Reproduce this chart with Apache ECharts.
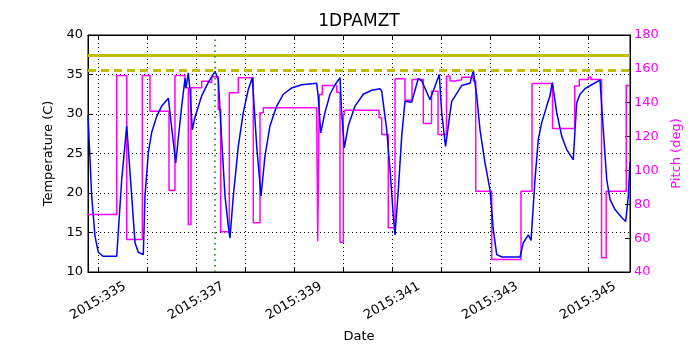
<!DOCTYPE html>
<html lang="en">
<head>
    <meta charset="UTF-8">
    <title>1DPAMZT</title>
    <script src="https://cdn.jsdelivr.net/npm/echarts@6/dist/echarts.min.js"></script>
</head>
<body style="margin:0">
<div id="main" style="width: 700px;height:350px;"></div>
<script type="text/javascript">
    // temperature (day of year 2015, deg C)
    var tempTime = [334.796, 334.871, 334.939, 335.006, 335.102, 335.382, 335.484, 335.586, 335.688, 335.755,
        335.822, 335.924, 335.959, 336.027, 336.096, 336.198, 336.300, 336.435, 336.586, 336.708,
        336.776, 336.796, 336.843, 336.878, 336.924, 336.980, 337.116, 337.251, 337.388, 337.455,
        337.524, 337.592, 337.659, 337.694, 337.761, 337.863, 337.965, 338.067, 338.149, 338.239,
        338.327, 338.408, 338.510, 338.647, 338.782, 338.953, 339.157, 339.463, 339.496, 339.545,
        339.633, 339.735, 339.837, 339.939, 339.973, 340.027, 340.108, 340.245, 340.414, 340.586,
        340.755, 340.790, 340.892, 340.959, 341.027, 341.061, 341.129, 341.198, 341.265, 341.402,
        341.537, 341.606, 341.776, 341.965, 342.014, 342.092, 342.218, 342.422, 342.592, 342.659,
        342.729, 342.796, 342.898, 343.000, 343.067, 343.137, 343.245, 343.612, 343.680, 343.782,
        343.837, 343.918, 343.986, 344.055, 344.157, 344.224, 344.271, 344.361, 344.463, 344.565,
        344.700, 344.735, 344.769, 344.837, 344.939, 345.076, 345.245, 345.312, 345.382, 345.449,
        345.551, 345.688, 345.769, 345.823, 345.857];
    var tempValue = [29.8, 19.6, 14.5, 12.5, 12.0, 12.0, 21.7, 28.5, 19.6, 13.7,
        12.5, 12.2, 19.6, 25.1, 27.7, 29.7, 31.0, 32.0, 23.8, 31.0,
        34.5, 33.3, 35.2, 33.0, 28.0, 29.6, 32.3, 34.0, 35.4, 34.3,
        26.8, 19.6, 15.8, 14.3, 19.6, 25.9, 30.2, 33.1, 34.6, 25.9,
        19.6, 24.7, 28.5, 31.0, 32.5, 33.3, 33.7, 33.9, 32.1, 27.6,
        30.2, 32.5, 33.7, 34.6, 30.2, 25.7, 28.5, 31.0, 32.5, 33.0,
        33.2, 32.9, 28.0, 23.0, 17.1, 14.7, 20.4, 27.2, 31.6, 31.5,
        34.5, 34.2, 31.8, 35.0, 30.2, 25.9, 31.6, 33.6, 33.9, 35.5,
        32.3, 28.0, 23.8, 20.4, 15.4, 12.2, 11.9, 11.9, 13.7, 14.7,
        14.0, 21.7, 26.8, 28.9, 31.0, 32.3, 34.0, 30.2, 27.2, 25.5,
        24.2, 28.0, 31.4, 32.5, 33.2, 33.7, 34.3, 28.0, 21.7, 19.2,
        17.9, 16.9, 16.4, 19.6, 24.0];

    // pitch changes (value holds until next time)
    var pitchTime = [334.796, 335.382, 335.586, 335.904, 336.061, 336.449, 336.571, 336.776, 336.843, 336.898,
        337.116, 337.251, 337.320, 337.455, 337.504, 337.680, 337.863, 338.169, 338.306, 338.373,
        339.463, 339.484, 339.516, 339.578, 339.871, 339.939, 340.006, 340.041, 340.735, 340.790,
        340.924, 341.061, 341.265, 341.408, 341.639, 341.806, 341.939, 342.112, 342.184, 342.286,
        342.422, 342.659, 342.708, 343.035, 343.633, 343.857, 344.276, 344.729, 344.822, 345.006,
        345.061, 345.276, 345.371, 345.780, 345.857];
    var pitchValue = [74.0, 156.1, 59.2, 156.1, 135.0, 88.2, 156.1, 148.8, 68.1, 148.8,
        152.7, 151.8, 155.3, 136.0, 63.8, 145.9, 154.7, 69.1, 134.0, 137.0,
        132.0, 58.2, 144.9, 150.2, 146.2, 57.6, 132.0, 135.6, 131.1, 121.2,
        66.1, 154.1, 141.5, 153.7, 127.7, 146.8, 121.2, 155.7, 152.8, 153.5,
        155.1, 152.8, 87.7, 47.4, 87.7, 151.4, 124.8, 149.8, 153.7, 155.1,
        153.7, 48.4, 87.7, 150.2, 150.2];

    var dayTicks = [335, 336, 337, 338, 339, 340, 341, 342, 343, 344, 345];
    var dayLabels = [335, 337, 339, 341, 343, 345];
    var planningLimit = 37.5;
    var cautionLimit = 35.5;
    var nowDay = 337.39;

    var tempData = [];
    for (var i = 0; i < tempTime.length; i++) {
        tempData.push([tempTime[i], tempValue[i]]);
    }
    var pitchData = [];
    for (var j = 0; j < pitchTime.length; j++) {
        pitchData.push([pitchTime[j], pitchValue[j]]);
    }

    var font = 'DejaVu Sans';
    var myChart = echarts.init(document.getElementById('main'));

    var option = {
        backgroundColor: '#fff',
        animation: false,
        textStyle: {fontFamily: font},
        title: {
            text: '1DPAMZT',
            left: 359,
            top: 13,
            textAlign: 'center',
            padding: 0,
            textStyle: {fontFamily: font, fontSize: 17, fontWeight: 'normal', color: '#000'}
        },
        grid: {left: 88, right: 70, top: 35, bottom: 78, show: true, borderColor: '#000', borderWidth: 1},
        xAxis: [{
            type: 'value',
            min: tempTime[0],
            max: tempTime[tempTime.length - 1],
            name: 'Date',
            nameLocation: 'middle',
            nameGap: 58,
            nameTextStyle: {fontFamily: font, fontSize: 13, color: '#000'},
            axisLine: {lineStyle: {color: '#000'}},
            axisTick: {inside: true, length: 5, customValues: dayTicks, lineStyle: {color: '#000'}},
            axisLabel: {
                customValues: dayLabels,
                rotate: 30,
                align: 'center',
                verticalAlign: 'middle',
                fontFamily: font,
                fontSize: 13,
                color: '#000',
                margin: 29,
                formatter: function (v) { return '2015:' + v; }
            },
            splitLine: {show: true, lineStyle: {color: '#000', type: [1, 3], width: 1}}
        }, {
            type: 'value',
            position: 'top',
            min: tempTime[0],
            max: tempTime[tempTime.length - 1],
            axisLine: {lineStyle: {color: '#000'}},
            axisTick: {inside: true, length: 5, customValues: dayTicks, lineStyle: {color: '#000'}},
            axisLabel: {show: false},
            splitLine: {show: false}
        }],
        yAxis: [{
            type: 'value',
            min: 10,
            max: 40,
            interval: 5,
            name: 'Temperature (C)',
            nameLocation: 'middle',
            nameGap: 27,
            nameTextStyle: {fontFamily: font, fontSize: 13, color: '#000'},
            axisLine: {show: true, lineStyle: {color: '#000'}},
            axisTick: {show: true, inside: true, length: 5, lineStyle: {color: '#000'}},
            axisLabel: {fontFamily: font, fontSize: 13, color: '#000', margin: 5},
            splitLine: {show: true, lineStyle: {color: '#000', type: [1, 3], width: 1}}
        }, {
            type: 'value',
            position: 'right',
            min: 40,
            max: 180,
            interval: 20,
            name: 'Pitch (deg)',
            nameLocation: 'middle',
            nameRotate: 90,
            nameGap: 36,
            nameTextStyle: {fontFamily: font, fontSize: 13, color: '#ff00ff'},
            axisLine: {show: true, lineStyle: {color: '#000'}},
            axisTick: {show: true, inside: true, length: 5, lineStyle: {color: '#000'}},
            axisLabel: {fontFamily: font, fontSize: 13, color: '#ff00ff', margin: 4},
            splitLine: {show: false}
        }],
        series: [{
            name: 'temp',
            type: 'line',
            xAxisIndex: 0,
            yAxisIndex: 0,
            showSymbol: false,
            lineStyle: {color: '#0000ff', width: 1.5},
            itemStyle: {color: '#0000ff'},
            data: tempData,
            z: 3,
            markLine: {
                silent: true,
                symbol: 'none',
                label: {show: false},
                data: [
                    {yAxis: planningLimit, lineStyle: {color: '#bfbf00', width: 3, type: 'solid'}},
                    {yAxis: cautionLimit, lineStyle: {color: '#bfbf00', width: 3, type: [8, 5]}},
                    {xAxis: nowDay, lineStyle: {color: '#008000', width: 1.5, type: [1.5, 4]}}
                ]
            }
        }, {
            name: 'pitch',
            type: 'line',
            xAxisIndex: 0,
            yAxisIndex: 1,
            step: 'end',
            showSymbol: false,
            lineStyle: {color: '#ff00ff', width: 1.5},
            itemStyle: {color: '#ff00ff'},
            data: pitchData,
            z: 2
        }]
    };

    myChart.setOption(option);
</script>
</body>
</html>
